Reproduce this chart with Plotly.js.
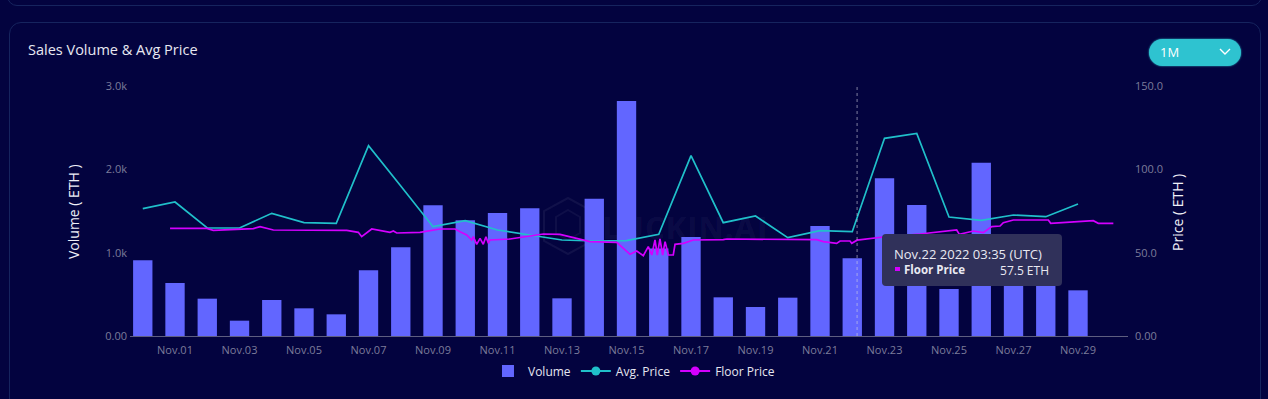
<!DOCTYPE html>
<html>
<head>
<meta charset="utf-8">
<script src="https://cdn.plot.ly/plotly-3.0.1.min.js"></script>
<style>
  html, body { margin:0; padding:0; background:#03033f; width:1268px; height:399px; overflow:hidden; font-family:"Open Sans", "Noto Sans", sans-serif; }
  #wrap { position:absolute; left:0; top:0; width:1268px; height:399px; }
  .topcard { position:absolute; left:7px; top:-30px; width:1253px; height:34px; border:1px solid #16245e; border-radius:10px; }
  .card { position:absolute; left:9px; top:22px; width:1250px; height:400px; border:1px solid #16245e; border-radius:12px; }
  #wm { position:absolute; left:540px; top:196px; width:220px; height:62px; }
  #wmtext { position:absolute; left:602px; top:206px; font-size:31px; font-weight:700; color:rgba(255,255,255,0.055); letter-spacing:1px; }
  #chart { position:absolute; left:0; top:0; width:1268px; height:399px; }
  #btn { position:absolute; left:1149px; top:39px; width:92px; height:27px; border-radius:14px; background:#2ec3d0; box-shadow:0 0 2px #2ec3d0; }
  #btn span { position:absolute; left:11px; top:4px; font-size:13px; color:#ffffff; }
  #btn svg { position:absolute; left:70px; top:8px; }
  #tip { position:absolute; left:882px; top:234px; width:180px; height:52px; background:#30315a; border-radius:4px; color:#e9e9f2; }
  #tip .l1 { position:absolute; left:12px; top:11px; font-size:13px; white-space:nowrap; }
  #tip .sq { position:absolute; left:13px; top:33px; width:5px; height:4px; background:#d400ff; }
  #tip .nm { position:absolute; left:22px; top:28px; font-size:11.5px; font-weight:700; white-space:nowrap; }
  #tip .vl { position:absolute; right:13px; top:28px; font-size:12px; white-space:nowrap; }
</style>
</head>
<body>
<div id="wrap">
  <div class="topcard"></div>
  <div class="card"></div>
  <svg id="wm" width="220" height="62">
    <polygon points="28,2 52,15 52,45 28,58 4,45 4,15" fill="none" stroke="rgba(255,255,255,0.06)" stroke-width="2"/>
    <polygon points="28,14 40,21 40,37 28,44 16,37 16,21" fill="none" stroke="rgba(255,255,255,0.05)" stroke-width="2"/>
  </svg>
  <div id="wmtext">LUCKIN.AI</div>
  <div id="chart"></div>
  <div id="btn"><span>1M</span><svg width="12" height="10"><polyline points="1,2 6,7 11,2" fill="none" stroke="#ffffff" stroke-width="1.4"/></svg></div>
  <div id="tip">
    <div class="l1">Nov.22 2022 03:35 (UTC)</div>
    <div class="sq"></div>
    <div class="nm">Floor Price</div>
    <div class="vl">57.5 ETH</div>
  </div>
</div>
<script>
// Daily categories (bar / avg price dates)
const days = ['2022-10-31','2022-11-01','2022-11-02','2022-11-03','2022-11-04','2022-11-05','2022-11-06','2022-11-07','2022-11-08','2022-11-09','2022-11-10','2022-11-11','2022-11-12','2022-11-13','2022-11-14','2022-11-15','2022-11-16','2022-11-17','2022-11-18','2022-11-19','2022-11-20','2022-11-21','2022-11-22','2022-11-23','2022-11-24','2022-11-25','2022-11-26','2022-11-27','2022-11-28','2022-11-29'];
// Sales volume (ETH)
const volume = [910,636,448,184,432,332,260,788,1064,1568,1390,1476,1532,452,1648,2820,1050,1188,464,348,460,1320,932,1892,1572,564,2080,850,900,548];
// Average price (ETH)
const avgPrice = [76.4,80.4,64.8,64.8,73.6,68,67.6,114.2,90,65.6,69.2,63.6,60.6,57.6,57,57.2,61,108.2,68,72,59,63.2,62.6,118.6,121.6,71.4,69.4,72.6,71.6,79.2];
// Floor price samples (ETH)
const floorTimes = ['2022-10-31 20:18','2022-11-01 23:36','2022-11-02 04:30','2022-11-03 10:18','2022-11-03 15:18','2022-11-04 01:12','2022-11-06 07:48','2022-11-06 16:24','2022-11-06 18:54','2022-11-07 02:24','2022-11-07 16:00','2022-11-07 18:30','2022-11-07 21:00','2022-11-08 14:18','2022-11-09 05:12','2022-11-09 16:24','2022-11-09 20:06','2022-11-10 01:06','2022-11-10 04:48','2022-11-10 06:00','2022-11-10 08:30','2022-11-10 11:00','2022-11-10 13:24','2022-11-10 15:24','2022-11-10 17:12','2022-11-10 18:24','2022-11-11 09:18','2022-11-11 19:12','2022-11-12 05:12','2022-11-12 10:06','2022-11-12 22:30','2022-11-13 10:54','2022-11-13 20:48','2022-11-14 16:42','2022-11-14 21:36','2022-11-15 02:36','2022-11-15 07:36','2022-11-15 12:30','2022-11-15 16:12','2022-11-15 18:48','2022-11-15 21:12','2022-11-15 22:54','2022-11-16 00:54','2022-11-16 02:54','2022-11-16 04:42','2022-11-16 07:06','2022-11-16 10:48','2022-11-16 12:06','2022-11-16 18:18','2022-11-17 01:42','2022-11-18 00:00','2022-11-18 02:36','2022-11-20 21:36','2022-11-21 02:30','2022-11-21 12:24','2022-11-21 14:54','2022-11-21 22:18','2022-11-21 23:36','2022-11-22 03:35','2022-11-22 23:06','2022-11-24 02:24','2022-11-24 07:24','2022-11-24 17:18','2022-11-25 05:42','2022-11-25 07:42','2022-11-25 18:06','2022-11-26 01:30','2022-11-26 04:06','2022-11-26 07:48','2022-11-26 14:00','2022-11-26 16:24','2022-11-26 23:54','2022-11-28 01:54','2022-11-28 03:42','2022-11-29 11:24','2022-11-29 15:06','2022-11-30 02:18'];
const floorPrice = [64.6,64.6,63.4,64.4,65.6,63.6,63.4,62.2,59.6,64.2,62.2,63,61.8,62.2,64.2,64.2,62.6,60.6,57.6,59.6,55,58.6,55,59.6,55.6,57.6,58.2,59.4,60.2,61.2,61,58.6,56.6,56.2,52.6,49,51,48.2,53.6,48.6,57.6,48.6,58.2,48.6,56.6,48.6,48.6,55,55.6,57.6,57.8,58.2,57.8,56.6,55.6,57,57,55.6,57.5,59.4,61.2,61.6,62.6,63.6,61,63,62,63.6,65.6,66,68,69.6,69.6,67.6,69.2,67.6,67.6];
// Axis ticks
const xTickVals = ['2022-11-01','2022-11-03','2022-11-05','2022-11-07','2022-11-09','2022-11-11','2022-11-13','2022-11-15','2022-11-17','2022-11-19','2022-11-21','2022-11-23','2022-11-25','2022-11-27','2022-11-29'];
const xTickText = ['Nov.01','Nov.03','Nov.05','Nov.07','Nov.09','Nov.11','Nov.13','Nov.15','Nov.17','Nov.19','Nov.21','Nov.23','Nov.25','Nov.27','Nov.29'];
const volTickVals = [0,1000,2000,3000];
const volTickText = ['0.00','1.0k','2.0k','3.0k'];
const priceTickVals = [0,50,100,150];
const priceTickText = ['0.00','50.0','100.0','150.0'];
const hoverTime = '2022-11-22 03:35';

const BAR = '#6266ff', AVG = '#20c0ca', FLOOR = '#d400ff';

const traces = [
  { type:'bar', name:'Volume', x:days, y:volume, marker:{color:BAR, line:{width:0}}, width:0.6*86400000, legendrank:1 },
  { type:'scatter', mode:'lines+markers', name:'Avg. Price', x:[null], y:[null], yaxis:'y2', line:{color:AVG, width:2}, marker:{color:AVG, size:9}, legendrank:2 },
  { type:'scatter', mode:'lines+markers', name:'Floor Price', x:[null], y:[null], yaxis:'y2', line:{color:FLOOR, width:2}, marker:{color:FLOOR, size:9}, legendrank:3 },
  { type:'scatter', mode:'lines', name:'Avg. Price', x:days, y:avgPrice, yaxis:'y2', line:{color:AVG, width:1.7}, showlegend:false },
  { type:'scatter', mode:'lines', name:'Floor Price', x:floorTimes, y:floorPrice, yaxis:'y2', line:{color:FLOOR, width:1.7}, showlegend:false }
];

const tickFont = {family:'"Open Sans", sans-serif', size:11, color:'#7c7c9a'};
const layout = {
  width:1268, height:399,
  margin:{l:130, r:140, t:86, b:63, pad:0},
  paper_bgcolor:'rgba(0,0,0,0)', plot_bgcolor:'rgba(0,0,0,0)',
  font:{family:'"Open Sans", sans-serif', color:'#e6e6f0'},
  title:{text:'Sales Volume & Avg Price', x:28/1268, xanchor:'left', xref:'container', y:1-50/399, yanchor:'middle', yref:'container', font:{size:14.5, color:'#e8e8f2'}},
  showlegend:true,
  legend:{orientation:'h', x:0.505, xanchor:'center', y:-0.14, yanchor:'middle', font:{size:12, color:'#e6e6f0'}, bgcolor:'rgba(0,0,0,0)', itemwidth:30},
  bargap:0.4,
  hovermode:false,
  xaxis:{type:'date', range:['2022-10-30 14:30','2022-11-30 13:12'], tickmode:'array', tickvals:xTickVals, ticktext:xTickText, tickfont:tickFont, showgrid:false, zeroline:false, showline:true, linecolor:'#5e5e80', linewidth:1, ticks:'', ticklabelstandoff:4},
  yaxis:{range:[0,3000], tickmode:'array', tickvals:volTickVals, ticktext:volTickText, tickfont:tickFont, showgrid:false, zeroline:false, showline:false, ticks:'', ticklabelstandoff:2},
  yaxis2:{range:[0,150], overlaying:'y', side:'right', tickmode:'array', tickvals:priceTickVals, ticktext:priceTickText, tickfont:tickFont, showgrid:false, zeroline:false, showline:false, ticks:'', ticklabelstandoff:6},
  shapes:[{type:'line', xref:'x', yref:'paper', x0:hoverTime, x1:hoverTime, y0:0, y1:1, line:{color:'rgba(210,210,225,0.6)', width:1, dash:'3px,3px'}}],
  annotations:[
    {text:'Volume ( ETH )', xref:'paper', yref:'paper', x:(73-130)/998, y:(336-212)/250, textangle:-90, showarrow:false, xanchor:'center', yanchor:'middle', font:{size:14, color:'#f0f0f8'}},
    {text:'Price ( ETH )', xref:'paper', yref:'paper', x:(1177-130)/998, y:(336-213)/250, textangle:-90, showarrow:false, xanchor:'center', yanchor:'middle', font:{size:14, color:'#f0f0f8'}}
  ]
};
Plotly.newPlot('chart', traces, layout, {displayModeBar:false, staticPlot:true});
</script>
</body>
</html>
